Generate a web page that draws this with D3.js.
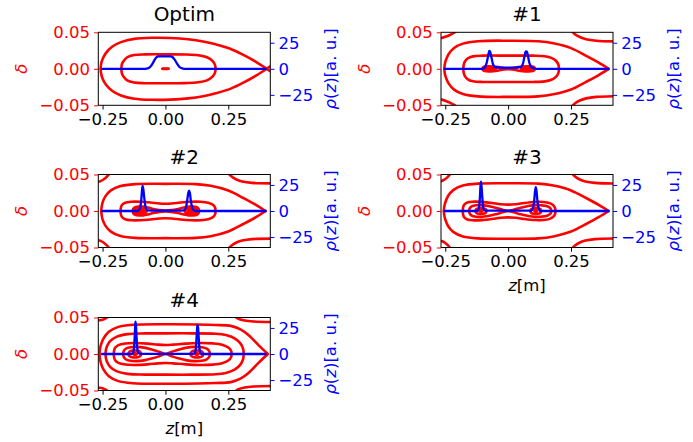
<!DOCTYPE html>
<html>
<head>
<meta charset="utf-8">
<script src="https://cdn.jsdelivr.net/npm/d3@7"></script>
<style>
  body { margin: 0; background: #fff; }
  svg { display: block; font-family: "DejaVu Sans", sans-serif; }
</style>
</head>
<body>
<svg id="chart" width="693" height="442"></svg>
<script>
// Panel titles and ticks
const titles = ["Optim", "#1", "#2", "#3", "#4"];
const zTicks = [-0.25, 0, 0.25];
const deltaTicks = [-0.05, 0, 0.05];
const rhoTicks = [-25, 0, 25];
const zDomain = [-0.267, 0.417];
const deltaDomain = [-0.05, 0.05];
const rhoDomain = [-35, 35];

// Phase space contours, upper half (z, delta); lower half is the mirror image
const optimContours = [
  [[-0.2575,0],[-0.2565,0.005],[-0.251,0.0125],[-0.237,0.0215],[-0.211,0.0305],[-0.177,0.0365],[-0.124,0.041],[-0.05,0.0425],[0.02,0.0422],[0.09,0.0405],[0.15,0.0375],[0.2,0.0335],[0.26,0.0272],[0.31,0.019],[0.36,0.0095],[0.403,0],[0.42,-0.004]],
  [[-0.175,0],[-0.1735,0.006],[-0.167,0.0105],[-0.152,0.0158],[-0.125,0.0188],[-0.08,0.0197],[0,0.0198],[0.08,0.0196],[0.13,0.0185],[0.165,0.0158],[0.188,0.0105],[0.1975,0.005],[0.199,0]],
  [[-0.012,0],[-0.008,0.0002],[0,0.0002],[0.008,0.0002],[0.012,0]]
];
const p1Contours = [
  [[-0.205,0.052],[-0.215,0.0495],[-0.232,0.0463],[-0.25,0.0438],[-0.272,0.0415]],
  [[0.25,0.0525],[0.265,0.0475],[0.285,0.0435],[0.31,0.0405],[0.35,0.0385],[0.42,0.0375]],
  [[-0.2535,0],[-0.2525,0.005],[-0.248,0.0115],[-0.237,0.02],[-0.215,0.0285],[-0.18,0.0345],[-0.12,0.0378],[0,0.0385],[0.12,0.0378],[0.18,0.035],[0.25,0.0283],[0.31,0.0178],[0.36,0.0085],[0.40,0]],
  [[-0.178,0],[-0.177,0.005],[-0.172,0.01],[-0.16,0.0145],[-0.14,0.017],[-0.1,0.018],[0,0.018],[0.1,0.018],[0.145,0.0172],[0.172,0.015],[0.19,0.011],[0.2,0.0055],[0.202,0]],
  [[-0.102,0],[-0.1,0.0018],[-0.093,0.003],[-0.078,0.0035],[-0.058,0.0032],[-0.038,0.0023],[-0.018,0.001],[0,0.0005],[0.018,0.001],[0.038,0.0023],[0.058,0.0032],[0.08,0.0035],[0.097,0.003],[0.104,0.0018],[0.106,0]],
  [[-0.095,0],[-0.088,0.0018],[-0.073,0.0024],[-0.058,0.0018],[-0.05,0]],
  [[0.052,0],[0.06,0.0018],[0.075,0.0024],[0.09,0.0018],[0.097,0]],
  [[-0.086,0],[-0.073,0.0011],[-0.06,0]],
  [[0.062,0],[0.075,0.0011],[0.088,0]]
];
const p2Contours = [
  [[-0.222,0.052],[-0.232,0.0475],[-0.245,0.0435],[-0.258,0.041],[-0.272,0.0395]],
  [[0.248,0.0525],[0.262,0.0475],[0.28,0.0435],[0.305,0.0405],[0.345,0.0385],[0.42,0.0378]],
  [[-0.255,0],[-0.254,0.005],[-0.25,0.0115],[-0.239,0.02],[-0.217,0.0282],[-0.182,0.0338],[-0.12,0.0368],[0,0.0372],[0.12,0.0368],[0.18,0.0345],[0.25,0.028],[0.31,0.0178],[0.36,0.0085],[0.398,0]],
  [[-0.178,0],[-0.1775,0.004],[-0.173,0.0082],[-0.16,0.0113],[-0.135,0.0127],[-0.1,0.0127],[-0.06,0.0117],[-0.025,0.0103],[0,0.0099],[0.025,0.0103],[0.06,0.0117],[0.1,0.0127],[0.14,0.0127],[0.17,0.0113],[0.19,0.0082],[0.198,0.004],[0.199,0]],
  [[-0.13,0],[-0.128,0.003],[-0.12,0.0052],[-0.105,0.0062],[-0.088,0.006],[-0.07,0.0048],[-0.048,0.0028],[-0.024,0.0012],[0,0.0006],[0.024,0.0012],[0.05,0.0028],[0.073,0.0048],[0.092,0.006],[0.11,0.0062],[0.125,0.0052],[0.132,0.003],[0.134,0]],
  [[-0.124,0],[-0.119,0.0032],[-0.1,0.0045],[-0.081,0.0032],[-0.074,0]],
  [[0.076,0],[0.083,0.0032],[0.102,0.0045],[0.121,0.0032],[0.127,0]],
  [[-0.114,0],[-0.109,0.002],[-0.099,0.0026],[-0.089,0.002],[-0.084,0]],
  [[0.088,0],[0.093,0.002],[0.102,0.0026],[0.112,0.002],[0.117,0]],
  [[-0.106,0],[-0.099,0.0009],[-0.092,0]],
  [[0.095,0],[0.102,0.0009],[0.109,0]]
];
const p3Contours = [
  [[-0.228,0.052],[-0.238,0.0475],[-0.25,0.0438],[-0.262,0.0415],[-0.272,0.0405]],
  [[0.252,0.0525],[0.265,0.0475],[0.283,0.0435],[0.307,0.0405],[0.345,0.0385],[0.42,0.0377]],
  [[-0.2555,0],[-0.2545,0.005],[-0.25,0.0115],[-0.239,0.0205],[-0.217,0.029],[-0.18,0.0348],[-0.12,0.0375],[0,0.038],[0.12,0.0375],[0.18,0.0348],[0.25,0.0282],[0.31,0.0178],[0.36,0.0085],[0.40,0]],
  [[-0.18,0],[-0.1795,0.004],[-0.175,0.0085],[-0.162,0.0117],[-0.138,0.0128],[-0.105,0.0125],[-0.065,0.011],[-0.03,0.0092],[0,0.0087],[0.03,0.0092],[0.065,0.011],[0.105,0.0124],[0.14,0.0124],[0.165,0.0108],[0.181,0.0075],[0.187,0.0035],[0.188,0]],
  [[-0.155,0],[-0.153,0.0035],[-0.145,0.0063],[-0.128,0.0078],[-0.105,0.008],[-0.08,0.0068],[-0.05,0.0045],[-0.022,0.0018],[0,0],[0.022,0.0018],[0.05,0.0045],[0.08,0.0068],[0.108,0.008],[0.132,0.0078],[0.155,0.0065],[0.168,0.0037],[0.172,0]],
  [[-0.13,0],[-0.126,0.0026],[-0.115,0.0038],[-0.101,0.0038],[-0.09,0.0026],[-0.086,0]],
  [[0.088,0],[0.092,0.0026],[0.103,0.0038],[0.117,0.0038],[0.128,0.0026],[0.132,0]],
  [[-0.113,0],[-0.108,0.0012],[-0.103,0]],
  [[0.105,0],[0.11,0.0012],[0.115,0]]
];
const p4Contours = [
  [[-0.228,0.0515],[-0.238,0.0488],[-0.25,0.047],[-0.262,0.0462],[-0.272,0.046]],
  [[0.272,0.0525],[0.29,0.0483],[0.315,0.0458],[0.35,0.0445],[0.42,0.0438]],
  [[-0.262,0],[-0.261,0.005],[-0.257,0.012],[-0.246,0.0215],[-0.225,0.0305],[-0.19,0.0368],[-0.13,0.04],[0,0.0408],[0.13,0.0405],[0.2,0.0398],[0.26,0.0385],[0.30,0.0335],[0.33,0.026],[0.37,0.0122],[0.407,0]],
  [[-0.238,0],[-0.237,0.005],[-0.232,0.011],[-0.22,0.0175],[-0.195,0.0235],[-0.15,0.0272],[-0.08,0.0282],[0,0.0283],[0.1,0.0283],[0.2,0.0278],[0.24,0.026],[0.275,0.0215],[0.298,0.0145],[0.309,0.007],[0.311,0]],
  [[-0.205,0],[-0.2045,0.004],[-0.2,0.0085],[-0.187,0.0122],[-0.16,0.0145],[-0.12,0.015],[-0.07,0.0142],[-0.03,0.0128],[0,0.0123],[0.03,0.0128],[0.08,0.0142],[0.13,0.015],[0.19,0.0145],[0.225,0.0128],[0.25,0.009],[0.261,0.0045],[0.263,0]],
  [[-0.168,0],[-0.166,0.004],[-0.158,0.0072],[-0.14,0.0092],[-0.115,0.0097],[-0.085,0.0087],[-0.055,0.0063],[-0.025,0.003],[0,0],[0.025,0.003],[0.055,0.0063],[0.085,0.0087],[0.115,0.0097],[0.145,0.0092],[0.164,0.0072],[0.174,0.004],[0.177,0]],
  [[-0.148,0],[-0.143,0.0032],[-0.13,0.0046],[-0.114,0.0046],[-0.101,0.0032],[-0.096,0]],
  [[0.099,0],[0.104,0.0032],[0.117,0.0046],[0.133,0.0046],[0.146,0.0032],[0.151,0]],
  [[-0.127,0],[-0.121,0.0012],[-0.115,0]],
  [[0.119,0],[0.125,0.0012],[0.131,0]]
];

// Line density profiles (z, rho)
const optimProfile = [[-0.256,0],[-0.08,0],[-0.07,0.4],[-0.06,2],[-0.05,5.5],[-0.042,9],[-0.035,11.3],[-0.028,12],[0.02,12],[0.028,11.3],[0.036,9],[0.045,5.5],[0.055,2],[0.065,0.5],[0.075,0],[0.402,0]];
const p1Profile = [[-0.256,0],[-0.104,0],[-0.097,0.5],[-0.09,2.5],[-0.085,6],[-0.08,12],[-0.076,16.5],[-0.074,17.2],[-0.071,16],[-0.066,10.5],[-0.061,5],[-0.056,2.5],[-0.048,1.5],[-0.03,1.2],[0,1],[0.03,1.2],[0.046,1.5],[0.054,2.5],[0.059,5],[0.064,10.5],[0.069,16],[0.072,16.7],[0.075,16],[0.079,12],[0.084,6],[0.09,2.5],[0.097,1],[0.104,0.3],[0.11,0],[0.402,0]];
const p2Profile = [[-0.256,0],[-0.112,0],[-0.105,0.8],[-0.1,4],[-0.096,11],[-0.093,20],[-0.091,24],[-0.088,21],[-0.084,12],[-0.08,5],[-0.075,1.5],[-0.068,0.6],[-0.04,0.3],[0.06,0.3],[0.076,1],[0.082,4],[0.087,11],[0.091,17.5],[0.094,19.6],[0.097,17.5],[0.101,10],[0.106,3.5],[0.112,0.8],[0.12,0],[0.402,0]];
const p3Profile = [[-0.256,0],[-0.124,0],[-0.119,1],[-0.115,5],[-0.112,14],[-0.11,24],[-0.108,28.2],[-0.106,24],[-0.103,14],[-0.1,5],[-0.096,1],[-0.09,0.3],[0.09,0.3],[0.096,1],[0.1,4],[0.104,11],[0.107,19],[0.11,22.8],[0.113,19],[0.116,11],[0.12,4],[0.124,1],[0.13,0],[0.402,0]];
const p4Profile = [[-0.256,0],[-0.134,0],[-0.129,1],[-0.125,6],[-0.122,18],[-0.12,28],[-0.119,31],[-0.117,27],[-0.115,17],[-0.112,6],[-0.108,1],[-0.1,0.2],[0.11,0.2],[0.117,1],[0.121,6],[0.124,17],[0.126,25],[0.128,27.6],[0.13,25],[0.132,17],[0.135,6],[0.139,1],[0.145,0],[0.402,0]];

const allContours = [optimContours, p1Contours, p2Contours, p3Contours, p4Contours];
const allProfiles = [optimProfile, p1Profile, p2Profile, p3Profile, p4Profile];

// Layout
const pw = 172, ph = 73;
const cols = [98.3, 441];
const rows = [32.3, 174.5, 317.5];
const fs = 16.5;

const svg = d3.select("#chart");

titles.forEach((title, i) => {
    const px = cols[i % 2], py = rows[Math.floor(i / 2)];
    const g = svg.append("g").attr("transform", `translate(${px},${py})`);

    const x = d3.scaleLinear().domain(zDomain).range([0, pw]);
    const y = d3.scaleLinear().domain(deltaDomain).range([ph, 0]);
    const yr = d3.scaleLinear().domain(rhoDomain).range([ph, 0]);

    g.append("clipPath").attr("id", "clip" + i)
        .append("rect").attr("width", pw).attr("height", ph);

    const plot = g.append("g").attr("clip-path", `url(#clip${i})`);

    // Contours: upper half and its mirror
    const line = d3.line()
        .x(d => x(d[0]))
        .y(d => y(d[1]))
        .curve(d3.curveCatmullRom.alpha(0.5));
    allContours[i].forEach(c => {
        [c, c.map(d => [d[0], -d[1]])].forEach(half => {
            plot.append("path")
                .attr("d", line(half))
                .attr("fill", "none")
                .attr("stroke", "#ff0000")
                .attr("stroke-width", 2.6)
                .attr("stroke-linecap", "round")
                .attr("stroke-linejoin", "round");
        });
    });

    // Density profile on the twin axis
    const rhoLine = d3.line()
        .x(d => x(d[0]))
        .y(d => yr(d[1]))
        .curve(d3.curveMonotoneX);
    plot.append("path")
        .attr("d", rhoLine(allProfiles[i]))
        .attr("fill", "none")
        .attr("stroke", "#0000ff")
        .attr("stroke-width", 2.3)
        .attr("stroke-linejoin", "round");

    // Spines
    g.append("rect")
        .attr("width", pw).attr("height", ph)
        .attr("fill", "none").attr("stroke", "#000").attr("stroke-width", 1);

    // Axes
    const fmt2 = d3.format(".2f");
    const xAxis = g.append("g").attr("transform", `translate(0,${ph})`)
        .call(d3.axisBottom(x).tickValues(zTicks).tickFormat(fmt2).tickSize(4.2).tickPadding(4).tickSizeOuter(0));
    const yAxis = g.append("g")
        .call(d3.axisLeft(y).tickValues(deltaTicks).tickFormat(fmt2).tickSize(4.2).tickPadding(4).tickSizeOuter(0));
    const rAxis = g.append("g").attr("transform", `translate(${pw},0)`)
        .call(d3.axisRight(yr).tickValues(rhoTicks).tickFormat(d3.format("d")).tickSize(4.2).tickPadding(4).tickSizeOuter(0));

    [[xAxis, "#000"], [yAxis, "#ff0000"], [rAxis, "#0000ff"]].forEach(([ax, col]) => {
        ax.attr("font-family", "DejaVu Sans").attr("font-size", fs);
        ax.select(".domain").remove();
        ax.selectAll(".tick line").attr("stroke", col).attr("stroke-width", 1);
        ax.selectAll(".tick text").attr("fill", col);
    });

    // Title
    g.append("text")
        .attr("x", pw / 2).attr("y", -11)
        .attr("text-anchor", "middle")
        .attr("font-size", 20)
        .text(title);

    // Left label
    g.append("text")
        .attr("transform", `translate(-77,${ph / 2}) rotate(-90)`)
        .attr("text-anchor", "middle")
        .attr("dominant-baseline", "central")
        .attr("font-size", fs)
        .attr("font-style", "italic")
        .attr("fill", "#ff0000")
        .text("δ");

    // Right label
    const rl = g.append("text")
        .attr("transform", `translate(${pw + 60},${ph / 2}) rotate(-90)`)
        .attr("text-anchor", "middle")
        .attr("dominant-baseline", "central")
        .attr("font-size", fs)
        .attr("fill", "#0000ff");
    rl.append("tspan").attr("font-style", "italic").text("ρ");
    rl.append("tspan").text("(");
    rl.append("tspan").attr("font-style", "italic").text("z");
    rl.append("tspan").text(")[a. u.]");

    // x label under the bottom panel of each column
    if (i >= 3) {
        const xl = g.append("text")
            .attr("x", pw / 2).attr("y", ph + 43)
            .attr("text-anchor", "middle")
            .attr("font-size", fs);
        xl.append("tspan").attr("font-style", "italic").text("z");
        xl.append("tspan").text("[m]");
    }
});
</script>
</body>
</html>
